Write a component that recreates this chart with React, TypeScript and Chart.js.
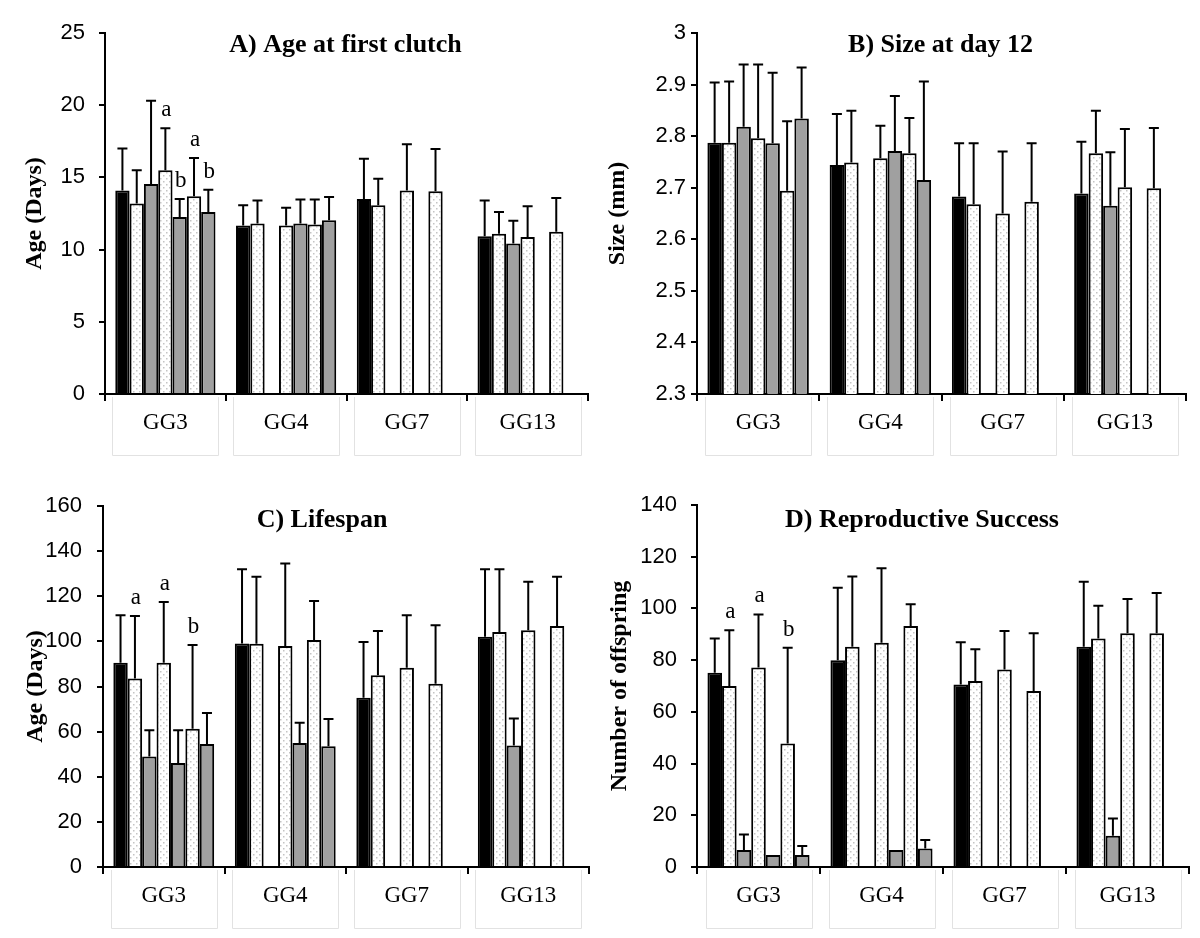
import React, { useEffect, useRef } from 'react';
import { Chart, registerables } from 'chart.js';
Chart.register(...registerables);

// ---------- DATA ----------
const groups = ['GG3', 'GG4', 'GG7', 'GG13'];
const seriesFill = ['black', 'dotted', 'gray', 'dotted', 'gray', 'dotted', 'gray'];
const panelTitles = ['A) Age at first clutch', 'B) Size at day 12', 'C) Lifespan', 'D) Reproductive Success'];
const axisTitles = ['Age (Days)', 'Size (mm)', 'Age (Days)', 'Number of offspring'];

// A) Age at first clutch: means per series (7 bar series) across groups
const ageS0 = [14.1, 11.67, 13.5, 10.93];
const ageS1 = [13.2, 11.8, 13.07, 11.1];
const ageS2 = [14.55, null, null, 10.43];
const ageS3 = [15.5, 11.67, 14.1, 10.87];
const ageS4 = [12.25, 11.8, null, null];
const ageS5 = [13.7, 11.74, 14.04, 11.23];
const ageS6 = [12.6, 12.04, null, null];
const ageE0 = [2.9, 1.4, 2.8, 2.47];
const ageE1 = [2.3, 1.6, 1.83, 1.5];
const ageE2 = [5.75, null, null, 1.57];
const ageE3 = [2.9, 1.23, 3.2, 2.13];
const ageE4 = [1.25, 1.67, null, null];
const ageE5 = [2.65, 1.73, 2.93, 2.35];
const ageE6 = [1.55, 1.6, null, null];
const ageLetters = [
  ['', '', '', ''], ['', '', '', ''], ['', '', '', ''],
  ['a', '', '', ''], ['b', '', '', ''], ['a', '', '', ''], ['b', '', '', ''],
];
const ageTicks = { min: 0, max: 25, step: 5 };

// B) Size at day 12
const sizeS0 = [2.787, 2.744, 2.683, 2.689];
const sizeS1 = [2.787, 2.749, 2.668, 2.767];
const sizeS2 = [2.818, null, null, 2.665];
const sizeS3 = [2.796, 2.757, 2.65, 2.701];
const sizeS4 = [2.786, 2.771, null, null];
const sizeS5 = [2.694, 2.767, 2.673, 2.699];
const sizeS6 = [2.834, 2.715, null, null];
const sizeE0 = [0.117, 0.099, 0.103, 0.1];
const sizeE1 = [0.119, 0.1, 0.118, 0.082];
const sizeE2 = [0.121, null, null, 0.104];
const sizeE3 = [0.143, 0.063, 0.12, 0.113];
const sizeE4 = [0.137, 0.107, null, null];
const sizeE5 = [0.135, 0.068, 0.113, 0.117];
const sizeE6 = [0.099, 0.191, null, null];
const sizeLetters = [
  ['', '', '', ''], ['', '', '', ''], ['', '', '', ''], ['', '', '', ''],
  ['', '', '', ''], ['', '', '', ''], ['', '', '', ''],
];
const sizeTicks = { min: 2.3, max: 3, step: 0.1 };

// C) Lifespan
const lifeS0 = [90.5, 99.1, 75, 102.1];
const lifeS1 = [83.6, 99, 85, 104.1];
const lifeS2 = [49, null, null, 53.8];
const lifeS3 = [90.5, 97.9, 88.3, 104.9];
const lifeS4 = [46.1, 55, null, null];
const lifeS5 = [61.3, 100.6, 81.2, 106.8];
const lifeS6 = [54.5, 53.5, null, null];
const lifeE0 = [21.1, 32.9, 24.7, 29.9];
const lifeE1 = [27.7, 29.6, 19.6, 27.9];
const lifeE2 = [11.6, null, null, 12];
const lifeE3 = [27, 36.6, 23.3, 21.5];
const lifeE4 = [14.5, 8.9, null, null];
const lifeE5 = [37.1, 17.3, 25.9, 21.8];
const lifeE6 = [13.8, 12.1, null, null];
const lifeLetters = [
  ['', '', '', ''], ['a', '', '', ''], ['', '', '', ''], ['a', '', '', ''],
  ['', '', '', ''], ['b', '', '', ''], ['', '', '', ''],
];
const lifeTicks = { min: 0, max: 160, step: 20 };

// D) Reproductive success
const reproS0 = [75.1, 80, 70.6, 85.2];
const reproS1 = [70, 85.2, 71.9, 88.4];
const reproS2 = [6.6, null, null, 12.1];
const reproS3 = [77.2, 86.7, 76.4, 90.4];
const reproS4 = [4.6, 6.6, null, null];
const reproS5 = [47.8, 93.2, 68.1, 90.4];
const reproS6 = [4.6, 7.2, null, null];
const reproE0 = [13.3, 28, 16.3, 25.1];
const reproE1 = [21.6, 27.1, 12.3, 12.6];
const reproE2 = [6, null, null, 6.7];
const reproE3 = [20.5, 28.8, 14.9, 13.2];
const reproE4 = [0, 0, null, null];
const reproE5 = [37, 8.4, 22.3, 15.6];
const reproE6 = [3.5, 3.2, null, null];
const reproLetters = [
  ['', '', '', ''], ['a', '', '', ''], ['', '', '', ''], ['a', '', '', ''],
  ['', '', '', ''], ['b', '', '', ''], ['', '', '', ''],
];
const reproTicks = { min: 0, max: 140, step: 20 };

// ---------- LAYOUT (positions / styles) ----------
const SERIF = '"Liberation Serif", "Times New Roman", serif';
const SANS = '"Liberation Sans", Arial, sans-serif';
const GRAY = '#a0a0a0';

type Panel = {
  means: (number | null)[][];
  errs: (number | null)[][];
  letters: string[][];
  ticks: { min: number; max: number; step: number };
  title: string;
  yTitle: string;
  left: number; top: number; w: number; h: number;
  padTop: number; padRight: number; yAxisW: number; xAxisH: number;
  tickPad: number; yTitlePad: number; titleDx: number; titleDy: number;
};

const panels: Panel[] = [
  {
    means: [ageS0, ageS1, ageS2, ageS3, ageS4, ageS5, ageS6],
    errs: [ageE0, ageE1, ageE2, ageE3, ageE4, ageE5, ageE6],
    letters: ageLetters, ticks: ageTicks, title: panelTitles[0], yTitle: axisTitles[0],
    left: 0, top: 0, w: 600, h: 469, padTop: 33, padRight: 12, yAxisW: 105, xAxisH: 75,
    tickPad: 14, yTitlePad: 20, titleDx: -1, titleDy: 12,
  },
  {
    means: [sizeS0, sizeS1, sizeS2, sizeS3, sizeS4, sizeS5, sizeS6],
    errs: [sizeE0, sizeE1, sizeE2, sizeE3, sizeE4, sizeE5, sizeE6],
    letters: sizeLetters, ticks: sizeTicks, title: panelTitles[1], yTitle: axisTitles[1],
    left: 600, top: 0, w: 600, h: 469, padTop: 33, padRight: 14, yAxisW: 97, xAxisH: 75,
    tickPad: 5, yTitlePad: 3, titleDx: -1, titleDy: 12,
  },
  {
    means: [lifeS0, lifeS1, lifeS2, lifeS3, lifeS4, lifeS5, lifeS6],
    errs: [lifeE0, lifeE1, lifeE2, lifeE3, lifeE4, lifeE5, lifeE6],
    letters: lifeLetters, ticks: lifeTicks, title: panelTitles[2], yTitle: axisTitles[2],
    left: 0, top: 469, w: 600, h: 469, padTop: 37, padRight: 11, yAxisW: 103, xAxisH: 71,
    tickPad: 15, yTitlePad: 21, titleDx: -24, titleDy: 14,
  },
  {
    means: [reproS0, reproS1, reproS2, reproS3, reproS4, reproS5, reproS6],
    errs: [reproE0, reproE1, reproE2, reproE3, reproE4, reproE5, reproE6],
    letters: reproLetters, ticks: reproTicks, title: panelTitles[3], yTitle: axisTitles[3],
    left: 600, top: 469, w: 600, h: 469, padTop: 36, padRight: 11, yAxisW: 97, xAxisH: 71,
    tickPad: 14, yTitlePad: 5, titleDx: -21, titleDy: 15,
  },
];

function makeDotPattern(): CanvasPattern | string {
  const c = document.createElement('canvas');
  c.width = 6; c.height = 6;
  const g = c.getContext('2d');
  if (!g) return '#f4f4f4';
  g.fillStyle = '#ffffff';
  g.fillRect(0, 0, 6, 6);
  g.fillStyle = '#c4c4c4';
  g.fillRect(1, 1, 1.5, 1.5);
  g.fillRect(4, 4, 1.5, 1.5);
  return g.createPattern(c, 'repeat') || '#f4f4f4';
}

function PanelChart({ p, idx }: { p: Panel; idx: number }) {
  const ref = useRef<HTMLCanvasElement | null>(null);
  useEffect(() => {
    if (!ref.current) return;
    const dots = makeDotPattern();
    const fills: Record<string, any> = { black: '#000000', dotted: dots, gray: GRAY };

    const extras = {
      id: 'extras' + idx,
      afterDatasetsDraw(chart: any) {
        const ctx = chart.ctx;
        const ys = chart.scales.y;
        ctx.save();
        ctx.strokeStyle = '#000';
        ctx.fillStyle = '#000';
        ctx.lineWidth = 2;
        chart.data.datasets.forEach((ds: any, i: number) => {
          const meta = chart.getDatasetMeta(i);
          meta.data.forEach((el: any, j: number) => {
            const v = ds.data[j];
            if (v == null) return;
            const e = p.errs[i][j] || 0;
            const px = el.x;
            const ey = ys.getPixelForValue(v + e);
            if (e > 0) {
              ctx.beginPath();
              ctx.moveTo(px, el.y);
              ctx.lineTo(px, ey);
              ctx.moveTo(px - 5, ey);
              ctx.lineTo(px + 5, ey);
              ctx.stroke();
            }
            const L = p.letters[i][j];
            if (L) {
              ctx.font = '23px ' + SERIF;
              ctx.textAlign = 'center';
              ctx.textBaseline = 'alphabetic';
              ctx.fillText(L, px + 1, ey - 12);
            }
          });
        });
        ctx.restore();
      },
      afterDraw(chart: any) {
        const ctx = chart.ctx;
        const ca = chart.chartArea;
        const xs = chart.scales.x;
        ctx.save();
        // faint label cells
        ctx.strokeStyle = '#e2e2e2';
        ctx.lineWidth = 1;
        groups.forEach((_, j) => {
          const cx = xs.getPixelForValue(j);
          const l = Math.round(cx - 53) + 0.5;
          const r = Math.round(cx + 53) + 0.5;
          const t = ca.bottom + 3;
          const b = ca.bottom + 61.5;
          ctx.beginPath();
          ctx.moveTo(l, t); ctx.lineTo(l, b); ctx.lineTo(r, b); ctx.lineTo(r, t);
          ctx.stroke();
        });
        // panel title
        ctx.fillStyle = '#000';
        ctx.font = 'bold 26px ' + SERIF;
        ctx.textAlign = 'center';
        ctx.textBaseline = 'middle';
        ctx.fillText(p.title, (ca.left + ca.right) / 2 + p.titleDx, ca.top + p.titleDy);
        ctx.restore();
      },
    };

    const chart = new Chart(ref.current, {
      type: 'bar',
      data: {
        labels: groups,
        datasets: p.means.map((m, i) => ({
          data: m,
          backgroundColor: fills[seriesFill[i]],
          borderColor: '#000',
          borderWidth: 2,
          barPercentage: 1,
          categoryPercentage: 0.83,
        })),
      },
      options: {
        responsive: false,
        animation: false,
        events: [],
        layout: { padding: { left: 0, top: p.padTop, right: p.padRight, bottom: 0 } },
        plugins: { legend: { display: false }, tooltip: { enabled: false }, title: { display: false } },
        scales: {
          x: {
            z: 1,
            grid: { offset: true, drawOnChartArea: false, drawTicks: true, tickLength: 7, color: '#000', lineWidth: 2 },
            border: { display: true, color: '#000', width: 2 },
            ticks: { color: '#000', padding: 8, font: { family: SERIF, size: 23 }, maxRotation: 0 },
            afterFit: (s: any) => { s.height = p.xAxisH; },
          },
          y: {
            z: 1,
            min: p.ticks.min,
            max: p.ticks.max,
            grid: { drawOnChartArea: false, drawTicks: true, tickLength: 6, color: '#000', lineWidth: 2 },
            border: { display: true, color: '#000', width: 2 },
            ticks: {
              stepSize: p.ticks.step,
              color: '#000',
              padding: p.tickPad,
              font: { family: SANS, size: 22 },
              callback: (v: any) => String(Math.round(Number(v) * 1000) / 1000),
            },
            title: {
              display: true,
              text: p.yTitle,
              color: '#000',
              font: { family: SERIF, size: 24, weight: 'bold' },
              padding: { top: p.yTitlePad, bottom: 0 },
            },
            afterFit: (s: any) => { s.width = p.yAxisW; },
          },
        },
      } as any,
      plugins: [extras],
    });
    return () => chart.destroy();
  }, [p, idx]);
  return (
    <canvas
      ref={ref}
      width={p.w}
      height={p.h}
      style={{ position: 'absolute', left: p.left, top: p.top, width: p.w, height: p.h }}
    />
  );
}

export default function App() {
  return (
    <div style={{ position: 'absolute', left: 0, top: 0, width: 1200, height: 938, background: '#fff', overflow: 'hidden' }}>
      {panels.map((p, i) => (
        <PanelChart key={i} p={p} idx={i} />
      ))}
    </div>
  );
}
